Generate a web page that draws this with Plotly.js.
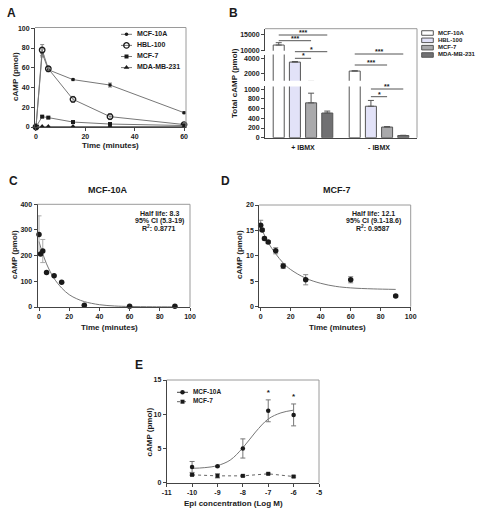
<!DOCTYPE html>
<html><head><meta charset="utf-8">
<script src="https://cdn.plot.ly/plotly-3.0.1.min.js"></script>
<style>html,body{margin:0;padding:0;background:#fff}#chart{width:480px;height:512px}</style>
</head><body><div id="chart"></div>
<script>
// ---------------- DATA ----------------
// Panel A: cAMP time course
const timeA = [0, 2.5, 5, 15, 30, 60];
const seriesA = ['MCF-10A', 'HBL-100', 'MCF-7', 'MDA-MB-231'];
const mcf10aA = [0, 75, 58, 48, 42.5, 14.5];
const mcf10aAErr = [0, 4, 2, 1, 2, 1];
const hbl100A = [0, 78, 59, 28, 10.5, 2.5];
const hbl100AErr = [0, 5.5, 2, 3, 3, 1];
const mcf7A = [0, 10.5, 9.5, 5, 3, 1.5];
const mcf7AErr = [0, 1, 0.8, 0.8, 1, 0.5];
const mdaA = [0, 0.5, 0.5, 0.5, 0.5, 0.5];
const mdaAErr = [0, 0.2, 0.2, 0.2, 0.2, 0.2];
const ticksAx = [0, 20, 40, 60];
const ticksAy = [0, 20, 40, 60, 80, 100];

// Panel B: total cAMP (broken axis)
const groupsB = ['+ IBMX', '- IBMX'];
const seriesB = ['MCF-10A', 'HBL-100', 'MCF-7', 'MDA-MB-231'];
const mcf10aB = [11800, 2300];
const mcf10aBErr = [750, 40];
const hbl100B = [3500, 650];
const hbl100BErr = [80, 120];
const mcf7B = [720, 220];
const mcf7BErr = [200, 10];
const mdaB = [510, 45];
const mdaBErr = [40, 5];
const ticksBlow = [0, 200, 400, 600, 800, 1000];
const ticksBmid = [2000, 4000];
const ticksBtop = [10000, 15000];
const sigLabelsB = ['***', '***', '*', '*', '***', '***', '**', '*'];
const sigGroupB = [0, 0, 0, 0, 1, 1, 1, 1];
const sigFromB = [0, 0, 1, 1, 0, 0, 1, 1];
const sigToB = [3, 2, 3, 2, 3, 2, 3, 2];

// Panel C: MCF-10A decay
const timeC = [0, 1, 2.5, 5, 10, 15, 30, 60, 90];
const campC = [282, 206, 218, 134, 122, 96, 7, 3, 3];
const campCErr = [73, 0, 45, 0, 0, 0, 0, 0, 0];
const fitTimeC = [0, 2.5, 5, 7.5, 10, 15, 20, 25, 30, 40, 50, 60, 75, 90];
const fitC = [255, 207, 168, 137, 111, 74, 48, 32, 21, 9, 4, 2, 1, 0.5];
const statsC = ['Half life: 8.3', '95% CI (5.3-19)', 'R<sup>2</sup>: 0.8771'];

// Panel D: MCF-7 decay
const timeD = [0, 1, 2.5, 5, 10, 15, 30, 60, 90];
const campD = [16, 15.1, 13.4, 12.7, 11, 8, 5.3, 5.3, 2.1];
const campDErr = [1, 0.3, 0.3, 0.3, 0.6, 0.5, 1, 0.6, 0.2];
const fitTimeD = [0, 5, 10, 15, 20, 30, 40, 50, 60, 75, 90];
const fitD = [15.7, 12.6, 10.4, 8.6, 7.3, 5.6, 4.6, 4.0, 3.7, 3.5, 3.4];
const statsD = ['Half life: 12.1', '95% CI (9.1-18.6)', 'R<sup>2</sup>: 0.9587'];
const ticksCDx = [0, 20, 40, 60, 80, 100];
const ticksCy = [0, 100, 200, 300, 400];
const ticksDy = [0, 5, 10, 15, 20];

// Panel E: dose response
const logConc = [-10, -9, -8, -7, -6];
const seriesE = ['MCF-10A', 'MCF-7'];
const e10A = [2.3, 2.4, 5.0, 10.5, 9.9];
const e10AErr = [0.8, 0.1, 1.4, 1.6, 1.6];
const e7 = [1.15, 1.0, 1.0, 1.3, 0.9];
const e7Err = [0.1, 0.3, 0.1, 0.1, 0.1];
const fitConcE = [-10, -9.5, -9, -8.5, -8, -7.5, -7, -6.5, -6];
const fitE = [2.1, 2.2, 2.5, 3.3, 5.1, 7.4, 9.3, 10.2, 10.6];
const sigConcE = [-7, -6];
const sigE = ['*', '*'];
const ticksEx = [-11, -10, -9, -8, -7, -6, -5];
const ticksEy = [0, 5, 10, 15];

// ---------------- HELPERS ----------------
const W = 480, H = 512;
const FONT = '"Liberation Sans", Arial, Helvetica, sans-serif';
const INK = '#1a1a1a';
const AXC = '#444';
const FRAME = '#9a9a9a';
const px = p => p / W;
const py = p => 1 - p / H;
const domX = (a, b) => [px(a), px(b)];
const domY = (top, bottom) => [py(bottom), py(top)];
const str = v => String(v);

function axis(extra) {
  return Object.assign({
    showline: true, linecolor: AXC, linewidth: 1,
    ticks: 'outside', ticklen: 3, tickwidth: 1, tickcolor: AXC,
    showgrid: false, zeroline: false, fixedrange: true, autorange: false,
    tickfont: {family: FONT, size: 7, color: INK, weight: 'bold'}
  }, extra);
}
function tickAxis(vals, extra) {
  return axis(Object.assign({tickmode: 'array', tickvals: vals, ticktext: vals.map(str)}, extra));
}
const hidden = extra => Object.assign({visible: false, fixedrange: true, autorange: false, showgrid: false, zeroline: false}, extra);

// ---------------- TRACES ----------------
const traces = [];
const lineGray = '#777';
const styleA = [
  {symbol: 'circle', size: 3.5, line: {width: 0}},
  {symbol: 'circle-open', size: 5.5, line: {width: 1.3, color: INK}},
  {symbol: 'square', size: 4, line: {width: 0}},
  {symbol: 'triangle-up', size: 5, line: {width: 0}}
];
const valsA = [mcf10aA, hbl100A, mcf7A, mdaA];
const errsA = [mcf10aAErr, hbl100AErr, mcf7AErr, mdaAErr];
valsA.forEach((v, i) => {
  traces.push({
    type: 'scatter', mode: 'lines+markers', x: timeA, y: v, xaxis: 'x', yaxis: 'y',
    line: {color: lineGray, width: 1},
    marker: Object.assign({color: INK}, styleA[i]),
    error_y: {type: 'data', array: errsA[i], color: '#888', thickness: 1, width: 2},
    cliponaxis: false, showlegend: false
  });
});

// Panel B bars on three axis segments
const fillsB = ['#ffffff', '#e2e2f8', '#a9a9ab', '#707072'];
const valsB = [mcf10aB, hbl100B, mcf7B, mdaB];
const errsB = [mcf10aBErr, hbl100BErr, mcf7BErr, mdaBErr];
['y2', 'y3', 'y4'].forEach(ya => {
  valsB.forEach((v, i) => {
    traces.push({
      type: 'bar', x: groupsB, y: v, xaxis: 'x2', yaxis: ya,
      marker: {color: fillsB[i], line: {color: '#555', width: 1}},
      error_y: {type: 'data', symmetric: false, array: errsB[i], arrayminus: errsB[i].map(() => 0),
                color: '#555', thickness: 1, width: 3},
      showlegend: false
    });
  });
});

// Panel C
traces.push({type: 'scatter', mode: 'lines', x: fitTimeC, y: fitC, xaxis: 'x3', yaxis: 'y5',
  line: {color: lineGray, width: 1, shape: 'spline'}, showlegend: false});
traces.push({type: 'scatter', mode: 'markers', x: timeC, y: campC, xaxis: 'x3', yaxis: 'y5',
  marker: {color: INK, size: 5.5},
  error_y: {type: 'data', array: campCErr, color: '#aaa', thickness: 1, width: 2.5},
  cliponaxis: false, showlegend: false});

// Panel D
traces.push({type: 'scatter', mode: 'lines', x: fitTimeD, y: fitD, xaxis: 'x4', yaxis: 'y6',
  line: {color: lineGray, width: 1, shape: 'spline'}, showlegend: false});
traces.push({type: 'scatter', mode: 'markers', x: timeD, y: campD, xaxis: 'x4', yaxis: 'y6',
  marker: {color: INK, size: 5.5},
  error_y: {type: 'data', array: campDErr, color: '#888', thickness: 1, width: 2.5},
  cliponaxis: false, showlegend: false});

// Panel E
traces.push({type: 'scatter', mode: 'lines', x: fitConcE, y: fitE, xaxis: 'x5', yaxis: 'y7',
  line: {color: lineGray, width: 1, shape: 'spline'}, showlegend: false});
traces.push({type: 'scatter', mode: 'markers', x: logConc, y: e10A, xaxis: 'x5', yaxis: 'y7',
  marker: {color: INK, size: 4.5},
  error_y: {type: 'data', array: e10AErr, color: '#777', thickness: 1, width: 2.5},
  cliponaxis: false, showlegend: false});
traces.push({type: 'scatter', mode: 'lines+markers', x: logConc, y: e7, xaxis: 'x5', yaxis: 'y7',
  line: {color: '#666', width: 1, dash: 'dot'},
  marker: {color: INK, size: 4, symbol: 'square'},
  error_y: {type: 'data', array: e7Err, color: '#777', thickness: 1, width: 2.5},
  cliponaxis: false, showlegend: false});
traces.push({type: 'scatter', mode: 'text', x: sigConcE,
  y: sigConcE.map(c => { const k = logConc.indexOf(c); return e10A[k] + e10AErr[k] + 1.0; }),
  text: sigE, xaxis: 'x5', yaxis: 'y7', textfont: {family: FONT, size: 8, color: INK, weight: 'bold'},
  cliponaxis: false, showlegend: false});

// ---------- custom legends (legend-only axes, rows = series index) ----------
const rowIdx = arr => arr.map((_, i) => i);
// Legend A
seriesA.forEach((name, i) => {
  traces.push({type: 'scatter', mode: 'lines', x: [0, 1], y: [i, i], xaxis: 'x6', yaxis: 'y8',
    line: {color: lineGray, width: 1}, showlegend: false, hoverinfo: 'skip'});
  traces.push({type: 'scatter', mode: 'markers', x: [0.5], y: [i], xaxis: 'x6', yaxis: 'y8',
    marker: Object.assign({color: INK}, styleA[i]), showlegend: false, cliponaxis: false, hoverinfo: 'skip'});
});
traces.push({type: 'scatter', mode: 'text', x: seriesA.map(() => 1.45), y: rowIdx(seriesA), text: seriesA,
  textposition: 'middle right', xaxis: 'x6', yaxis: 'y8', cliponaxis: false,
  textfont: {family: FONT, size: 7, color: INK, weight: 'bold'}, showlegend: false, hoverinfo: 'skip'});
// Legend B
seriesB.forEach((name, i) => {
  traces.push({type: 'bar', orientation: 'h', x: [1], y: [i], base: [0], width: 0.62, offset: -0.31,
    xaxis: 'x7', yaxis: 'y9', marker: {color: fillsB[i], line: {color: '#555', width: 1}},
    showlegend: false, hoverinfo: 'skip'});
});
traces.push({type: 'scatter', mode: 'text', x: seriesB.map(() => 1.4), y: rowIdx(seriesB), text: seriesB,
  textposition: 'middle right', xaxis: 'x7', yaxis: 'y9', cliponaxis: false,
  textfont: {family: FONT, size: 6, color: INK, weight: 'bold'}, showlegend: false, hoverinfo: 'skip'});
// Legend E
const styleE = [
  {line: {color: '#444', width: 1}, marker: {color: INK, size: 4.5, symbol: 'circle'}},
  {line: {color: '#666', width: 1, dash: 'dot'}, marker: {color: INK, size: 4, symbol: 'square'}}
];
seriesE.forEach((name, i) => {
  traces.push({type: 'scatter', mode: 'lines', x: [0, 1], y: [i, i], xaxis: 'x8', yaxis: 'y10',
    line: styleE[i].line, showlegend: false, hoverinfo: 'skip'});
  traces.push({type: 'scatter', mode: 'markers', x: [0.5], y: [i], xaxis: 'x8', yaxis: 'y10',
    marker: styleE[i].marker, showlegend: false, cliponaxis: false, hoverinfo: 'skip'});
});
traces.push({type: 'scatter', mode: 'text', x: seriesE.map(() => 1.45), y: rowIdx(seriesE), text: seriesE,
  textposition: 'middle right', xaxis: 'x8', yaxis: 'y10', cliponaxis: false,
  textfont: {family: FONT, size: 6.5, color: INK, weight: 'bold'}, showlegend: false, hoverinfo: 'skip'});

// ---------------- LAYOUT ----------------
const BARGAP = 0.148;
const slot = (1 - BARGAP) / 4;
const barCenter = (g, i) => g + (i - 1.5) * slot;
const sigY = [35, 40.7, 51.7, 58.3, 54, 65, 89, 96.7];

const shapes = [];
const annotations = [];
function frame(xa, ya) {
  shapes.push({type: 'line', xref: xa + ' domain', yref: ya + ' domain', x0: 0, x1: 1, y0: 1, y1: 1, line: {color: FRAME, width: 1}});
  shapes.push({type: 'line', xref: xa + ' domain', yref: ya + ' domain', x0: 1, x1: 1, y0: 0, y1: 1, line: {color: FRAME, width: 1}});
}
frame('x', 'y'); frame('x3', 'y5'); frame('x4', 'y6'); frame('x5', 'y7');
// B frame: top of top segment and a continuous right edge
shapes.push({type: 'line', xref: 'x2 domain', yref: 'y4 domain', x0: 0, x1: 1, y0: 1, y1: 1, line: {color: FRAME, width: 1}});
shapes.push({type: 'line', xref: 'x2 domain', yref: 'paper', x0: 1, x1: 1, y0: py(137.7), y1: py(28.7), line: {color: FRAME, width: 1}});

sigLabelsB.forEach((lab, k) => {
  const g = sigGroupB[k];
  const x0 = barCenter(g, sigFromB[k]), x1 = barCenter(g, sigToB[k]);
  shapes.push({type: 'line', xref: 'x2', yref: 'paper', x0: x0, x1: x1, y0: py(sigY[k]), y1: py(sigY[k]),
    line: {color: '#555', width: 1}});
  annotations.push({xref: 'x2', yref: 'paper', x: (x0 + x1) / 2, y: py(sigY[k]), text: lab, showarrow: false,
    xanchor: 'center', yanchor: 'bottom', yshift: -3, font: {family: FONT, size: 7, color: INK, weight: 'bold'}});
});

function txt(x, y, text, size, extra) {
  annotations.push(Object.assign({xref: 'paper', yref: 'paper', x: px(x), y: py(y), text: text, showarrow: false,
    xanchor: 'center', yanchor: 'middle', font: {family: FONT, size: size, color: INK, weight: 'bold'}}, extra || {}));
}
// panel letters
txt(5, 12.5, 'A', 12, {xanchor: 'left'});
txt(227, 12.5, 'B', 12, {xanchor: 'left'});
txt(7, 181, 'C', 12, {xanchor: 'left'});
txt(219, 181, 'D', 12, {xanchor: 'left'});
txt(133, 365, 'E', 12, {xanchor: 'left'});
// titles
txt(107.5, 190, 'MCF-10A', 9);
txt(336.7, 190, 'MCF-7', 9);
// axis titles
txt(15, 77, 'cAMP (pmol)', 8, {textangle: -90});
txt(110.5, 145.7, 'Time (minutes)', 8);
txt(234, 83, 'Total cAMP (pmol)', 8, {textangle: -90});
txt(14, 255, 'cAMP (pmol)', 8, {textangle: -90});
txt(109, 327, 'Time (minutes)', 8);
txt(239, 255, 'cAMP (pmol)', 8, {textangle: -90});
txt(337, 327, 'Time (minutes)', 8);
txt(148.5, 432, 'cAMP (pmol)', 8, {textangle: -90});
txt(233, 503, 'Epi concentration (Log M)', 8);
// fit statistics
const statRows = [213.3, 221, 228.3];
statsC.forEach((s, i) => txt(159.3, statRows[i], s, 7));
statsD.forEach((s, i) => txt(373.3, statRows[i], s, 7));

// legend axes ranges (row i at given pixel pitch)
function legRangeX(left, right, s0, s1) { const u = s1 - s0; return [(left - s0) / u, (right - s0) / u]; }
function legRangeY(top, bottom, r0, pitch) { return [(bottom - r0) / pitch, (top - r0) / pitch]; }

const layout = {
  width: W, height: H, margin: {l: 0, r: 0, t: 0, b: 0},
  paper_bgcolor: '#ffffff', plot_bgcolor: 'rgba(0,0,0,0)',
  font: {family: FONT, size: 7, color: INK, weight: 'bold'},
  showlegend: false, barmode: 'group', bargap: BARGAP, bargroupgap: 0.32,
  // A
  xaxis: tickAxis(ticksAx, {domain: domX(35, 186), range: [-0.4, 60.8], anchor: 'y'}),
  yaxis: tickAxis(ticksAy, {domain: domY(27.5, 127), range: [0, 100.8], anchor: 'x'}),
  // B
  xaxis2: axis({domain: domX(265, 417), range: [-0.5, 1.5], anchor: 'y2', type: 'category', ticks: '', ticklabelstandoff: 3}),
  yaxis2: tickAxis(ticksBlow, {domain: domY(86.4, 137.7), range: [0, 1060], anchor: 'x2'}),
  yaxis3: tickAxis(ticksBmid, {domain: domY(54.6, 80.8), range: [1000, 4500], anchor: 'x2'}),
  yaxis4: tickAxis(ticksBtop, {domain: domY(28.7, 50.7), range: [10000, 17000], anchor: 'x2'}),
  // C
  xaxis3: tickAxis(ticksCDx, {domain: domX(37.5, 190), range: [-1, 100], anchor: 'y5'}),
  yaxis5: tickAxis(ticksCy, {domain: domY(204.3, 307), range: [0, 400], anchor: 'x3'}),
  // D
  xaxis4: tickAxis(ticksCDx, {domain: domX(259.2, 410.7), range: [-1, 100], anchor: 'y6'}),
  yaxis6: tickAxis(ticksDy, {domain: domY(205, 306.7), range: [0, 20], anchor: 'x4'}),
  // E
  xaxis5: tickAxis(ticksEx, {domain: domX(166.7, 319), range: [-11, -5], anchor: 'y7'}),
  yaxis7: tickAxis(ticksEy, {domain: domY(380, 482.7), range: [0, 15], anchor: 'x5'}),
  // legend axes
  xaxis6: hidden({domain: domX(110, 205), range: legRangeX(110, 205, 121, 132), anchor: 'y8'}),
  yaxis8: hidden({domain: domY(28, 74), range: legRangeY(28, 74, 34.3, 11.1), anchor: 'x6'}),
  xaxis7: hidden({domain: domX(418, 480), range: legRangeX(418, 480, 421.7, 433.3), anchor: 'y9'}),
  yaxis9: hidden({domain: domY(28, 60), range: legRangeY(28, 60, 33, 7.33), anchor: 'x7'}),
  xaxis8: hidden({domain: domX(170, 260), range: legRangeX(170, 260, 177, 188), anchor: 'y10'}),
  yaxis10: hidden({domain: domY(386, 408), range: legRangeY(386, 408, 392.3, 9.4), anchor: 'x8'}),
  shapes: shapes, annotations: annotations
};

Plotly.newPlot('chart', traces, layout, {staticPlot: true, displayModeBar: false});
</script>
</body></html>
